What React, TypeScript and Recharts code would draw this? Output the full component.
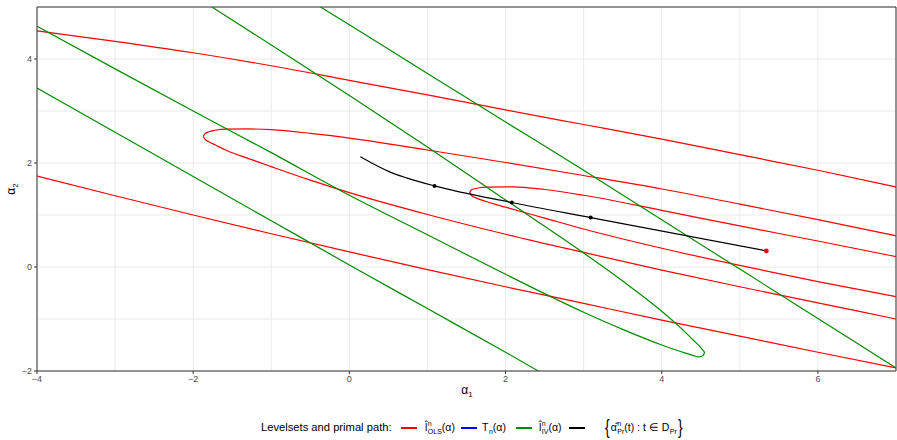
import React from "react";
import { ComposedChart, Line, XAxis, YAxis, CartesianGrid, ReferenceLine } from "recharts";

type Pt = [number, number];

// OLS level sets (red), each as upper and lower branch from the left tip
const olsOuterTop: Pt[] = [[-4, 4.54], [-3, 4.34], [-2, 4.12], [-1, 3.87], [0, 3.59], [1, 3.31], [2, 3.02], [3, 2.74], [4, 2.46], [5, 2.16], [6, 1.86], [7, 1.54]];
const olsOuterBottom: Pt[] = [[-4, 1.75], [-3, 1.37], [-2, 1.0], [-1, 0.64], [0, 0.29], [1, -0.05], [2, -0.38], [3, -0.7], [4, -1.02], [5, -1.33], [6, -1.64], [7, -1.94]];
const olsMidTop: Pt[] = [[-1.87, 2.51], [-1.85, 2.56], [-1.8, 2.6], [-1.72, 2.63], [-1.57, 2.65], [-1.3, 2.655], [-1, 2.64], [-0.5, 2.57], [0, 2.48], [1, 2.25], [2, 2.01], [3, 1.76], [4, 1.5], [5, 1.21], [6, 0.91], [7, 0.6]];
const olsMidBottom: Pt[] = [[-1.87, 2.51], [-1.85, 2.46], [-1.8, 2.41], [-1.72, 2.35], [-1.57, 2.24], [-1.3, 2.09], [-1, 1.93], [-0.5, 1.67], [0, 1.43], [1, 1.01], [2, 0.63], [3, 0.28], [4, -0.06], [5, -0.38], [6, -0.69], [7, -1.0]];
const olsInnerTop: Pt[] = [[1.54, 1.43], [1.56, 1.48], [1.62, 1.51], [1.75, 1.535], [2.1, 1.54], [2.5, 1.49], [3, 1.38], [4, 1.09], [5, 0.79], [6, 0.5], [7, 0.2]];
const olsInnerBottom: Pt[] = [[1.54, 1.43], [1.56, 1.38], [1.62, 1.33], [1.75, 1.26], [2, 1.15], [2.5, 0.94], [3, 0.73], [4, 0.36], [5, 0.03], [6, -0.28], [7, -0.57]];

// IV level sets (green)
const ivInnerTop: Pt[] = [[-1.76, 5.0], [-1, 4.27], [0, 3.3], [1, 2.31], [2, 1.29], [3, 0.27], [3.5, -0.27], [4, -0.85], [4.25, -1.18], [4.4, -1.4], [4.5, -1.55], [4.55, -1.64]];
const ivInnerBottom: Pt[] = [[-4, 4.63], [-3, 3.81], [-2, 3.0], [-1, 2.2], [0, 1.38], [1, 0.62], [2, -0.14], [3, -0.87], [3.5, -1.2], [4, -1.5], [4.25, -1.63], [4.4, -1.7], [4.48, -1.73], [4.53, -1.7], [4.55, -1.64]];
const ivOuterTop: Pt[] = [[-0.37, 5.0], [0, 4.66], [1, 3.72], [2, 2.79], [3, 1.86], [4, 0.91], [5, -0.04], [6, -0.99], [7, -1.94]];
const ivOuterBottom: Pt[] = [[-4, 3.44], [-3, 2.59], [-2, 1.74], [-1, 0.89], [0, 0.04], [1, -0.8], [2, -1.64], [2.42, -2.0]];

// primal path
const primalPath: Pt[] = [[0.14, 2.12], [0.31, 1.98], [0.53, 1.82], [0.74, 1.71], [1.09, 1.56], [2.08, 1.24], [3.09, 0.95], [5.34, 0.31]];
const primalDots: Pt[] = [[1.09, 1.56], [2.08, 1.24], [3.09, 0.95]];
const olsEstimate: Pt[] = [[5.34, 0.31]];

const xTicks = [-4, -2, 0, 2, 4, 6];
const yTicks = [-2, 0, 2, 4];
const xGrid = [-4, -3, -2, -1, 0, 1, 2, 3, 4, 5, 6, 7];
const yGrid = [-2, -1, 0, 1, 2, 3, 4, 5];

const toObj = (pts: Pt[]) => pts.map(([x, y]) => ({ x, y }));

const RED = "#FF0000";
const GREEN = "#008B00";
const FONT = "'Liberation Sans', Arial, sans-serif";

const redSeries = [olsOuterTop, olsOuterBottom, olsMidTop, olsMidBottom, olsInnerTop, olsInnerBottom];
const greenSeries = [ivInnerTop, ivInnerBottom, ivOuterTop, ivOuterBottom];

const minus = (v: number) => String(v).replace("-", "\u2212");

const Scripted = ({ base, sup, sub }: { base: React.ReactNode; sup?: string; sub?: string }) => (
  <span style={{ display: "inline-flex", alignItems: "center" }}>
    <span>{base}</span>
    <span style={{ display: "inline-flex", flexDirection: "column", fontSize: 7, lineHeight: "7px", marginLeft: 0.5 }}>
      <span style={{ height: 7 }}>{sup ?? "\u00a0"}</span>
      <span style={{ height: 7, marginTop: 1 }}>{sub ?? "\u00a0"}</span>
    </span>
  </span>
);

const Seg = ({ left, color }: { left: number; color: string }) => (
  <div style={{ position: "absolute", left, top: 427, width: 16, height: 1.5, background: color }} />
);

export default function App() {
  return (
    <div style={{ position: "relative", width: 897, height: 440, fontFamily: FONT, background: "#fff" }}>
      <style>{"body{margin:0}"}</style>
      <ComposedChart width={897} height={440} margin={{ top: 7, right: 1, bottom: 39, left: 7 }}>
        <CartesianGrid stroke="#EBEBEB" strokeWidth={1} verticalValues={xGrid} horizontalValues={yGrid} />
        <XAxis
          type="number"
          dataKey="x"
          domain={[-4, 7]}
          allowDataOverflow
          ticks={xTicks}
          tickFormatter={minus}
          height={30}
          tickSize={3}
          tickMargin={2}
          stroke="#333333"
          tick={{ fill: "#4D4D4D", fontSize: 9, fontFamily: FONT }}
        />
        <YAxis
          type="number"
          dataKey="y"
          domain={[-2, 5]}
          allowDataOverflow
          ticks={yTicks}
          tickFormatter={minus}
          width={30}
          tickSize={3}
          tickMargin={2}
          stroke="#333333"
          tick={{ fill: "#4D4D4D", fontSize: 9, fontFamily: FONT }}
        />
        <ReferenceLine y={5} stroke="#333333" />
        <ReferenceLine x={7} stroke="#333333" />
        {redSeries.map((s, i) => (
          <Line key={`r${i}`} data={toObj(s)} dataKey="y" type="monotone" stroke={RED} strokeWidth={1.2} dot={false} isAnimationActive={false} />
        ))}
        {greenSeries.map((s, i) => (
          <Line key={`g${i}`} data={toObj(s)} dataKey="y" type="monotone" stroke={GREEN} strokeWidth={1.2} dot={false} isAnimationActive={false} />
        ))}
        <Line data={toObj(primalPath)} dataKey="y" type="monotone" stroke="#000" strokeWidth={1.2} dot={false} isAnimationActive={false} />
        <Line data={toObj(primalDots)} dataKey="y" stroke="none" dot={{ r: 2, fill: "#000", stroke: "none" }} isAnimationActive={false} />
        <Line data={toObj(olsEstimate)} dataKey="y" stroke="none" dot={{ r: 2.4, fill: RED, stroke: "none" }} isAnimationActive={false} />
      </ComposedChart>

      <div style={{ position: "absolute", left: 467, top: 383, transform: "translateX(-50%)", fontSize: 12 }}>
        α<sub style={{ fontSize: 8 }}>1</sub>
      </div>
      <div style={{ position: "absolute", left: 6, top: 189, transform: "translate(0,-50%) rotate(-90deg)", fontSize: 12, transformOrigin: "center" }}>
        α<sub style={{ fontSize: 8 }}>2</sub>
      </div>

      <div style={{ position: "absolute", left: 261, top: 420, fontSize: 11.2, lineHeight: "14px" }}>Levelsets and primal path:</div>
      <Seg left={401} color={RED} />
      <div style={{ position: "absolute", left: 425, top: 419, fontSize: 10.5, lineHeight: "16px" }}>
        <Scripted base={<span>l̂</span>} sup="n" sub="OLS" />(α)
      </div>
      <Seg left={461} color="#0000FF" />
      <div style={{ position: "absolute", left: 482, top: 419, fontSize: 10.5, lineHeight: "16px" }}>
        <Scripted base="T" sub="n" />(α)
      </div>
      <Seg left={516} color={GREEN} />
      <div style={{ position: "absolute", left: 539, top: 419, fontSize: 10.5, lineHeight: "16px" }}>
        <Scripted base={<span>l̂</span>} sup="n" sub="IV" />(α)
      </div>
      <Seg left={569} color="#000" />
      <div style={{ position: "absolute", left: 604, top: 417, fontSize: 10.5, lineHeight: "20px", display: "flex", alignItems: "center" }}>
        <span style={{ fontSize: 20, lineHeight: "20px", transform: "scaleX(0.7)" }}>{"{"}</span>
        <Scripted base={<span>α̂</span>} sup="n" sub="Pr" />
        <span style={{ marginRight: 3 }}>(t) : t ∈</span>
        <Scripted base="D" sub="Pr" />
        <span style={{ fontSize: 20, lineHeight: "20px", transform: "scaleX(0.7)" }}>{"}"}</span>
      </div>
    </div>
  );
}
